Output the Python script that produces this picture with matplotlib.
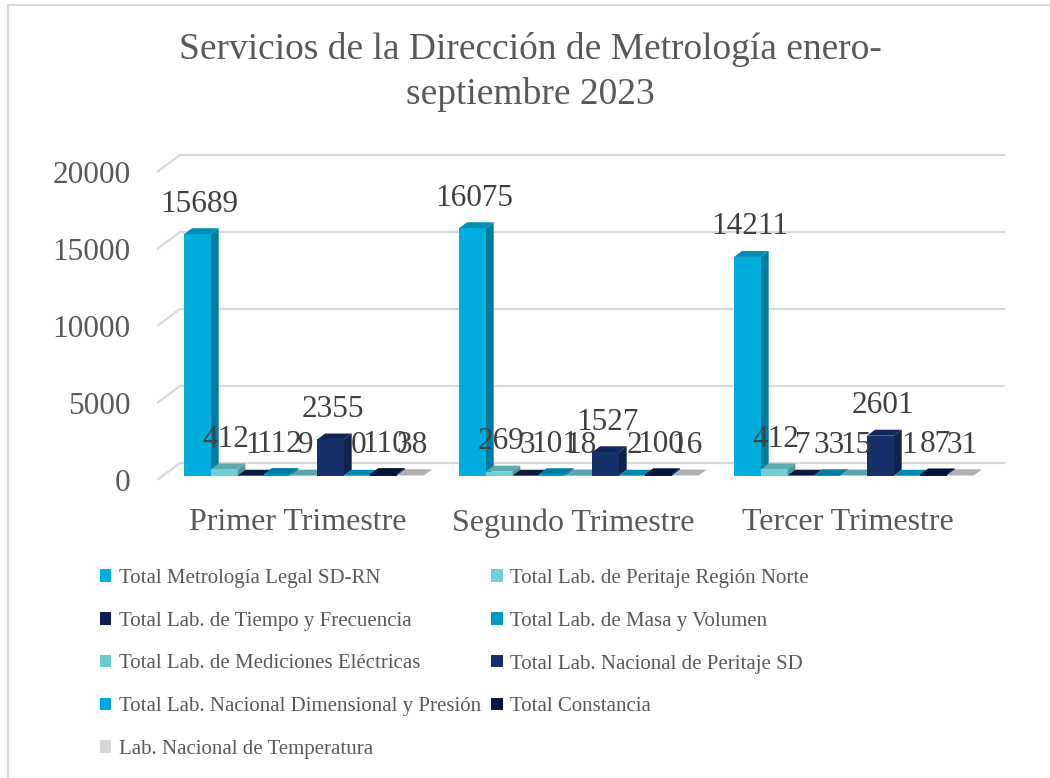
import numpy as np
import matplotlib
matplotlib.use('Agg')
import matplotlib.pyplot as plt
from matplotlib.patches import Polygon, Patch
from matplotlib.colors import to_rgb

plt.rcParams['font.family'] = ['Liberation Serif', 'DejaVu Serif']

# data
categories = ['Primer Trimestre', 'Segundo Trimestre', 'Tercer Trimestre']
series = ['Total Metrología Legal SD-RN',
          'Total Lab. de Peritaje Región Norte',
          'Total Lab. de Tiempo y Frecuencia',
          'Total Lab. de Masa y Volumen',
          'Total Lab. de Mediciones Eléctricas',
          'Total Lab. Nacional de Peritaje SD',
          'Total Lab. Nacional Dimensional y Presión',
          'Total Constancia',
          'Lab. Nacional de Temperatura']
legal = [15689, 16075, 14211]
peritaje_norte = [412, 269, 412]
tiempo = [1, 3, 7]
masa = [112, 101, 33]
electricas = [9, 18, 15]
peritaje_sd = [2355, 1527, 2601]
dimensional = [0, 2, 1]
constancia = [110, 100, 87]
temperatura = [38, 16, 31]
values = [legal, peritaje_norte, tiempo, masa, electricas,
          peritaje_sd, dimensional, constancia, temperatura]
colors = ['#00ADDC', '#70D0D8', '#0B1E4E', '#0096C6', '#6CCBD2',
          '#16306A', '#00A6DA', '#001845', '#D6D6D6']
yticks = [0, 5000, 10000, 15000, 20000]

# fake 3D: pixel scale of the plot and depth offset of the back wall
PX = 275.0            # px per category
PY = 77.0 / 5000      # px per value unit
DX = 23 / PX          # back wall shift (data units)
DY = 17 / PY
F, B = 0.25, 0.6      # front/back depth of the bars
bw = 26.6 / PX

fig = plt.figure(figsize=(10.5, 7.78), dpi=100)
ax = fig.add_axes([157 / 1050, (778 - 490) / 778, (1010 - 157) / 1050, 350 / 778])
xl, xr = (157 - 298) / PX, (1010 - 298) / PX
ax.set_xlim(xl, xr)
ax.set_ylim(-10 / PY, 340 / PY)
for s in ax.spines.values():
    s.set_visible(False)

grid = '#D9D9D9'
for t in yticks:
    ax.plot([xl, xl + DX, (1005 - 298) / PX], [t, t + DY, t + DY],
            color=grid, lw=1.6, zorder=1, solid_capstyle='butt')

def shade(c, k):
    r, g, b = to_rgb(c)
    return (r * k, g * k, b * k)

for i in range(len(categories)):
    for j, vals in enumerate(values):
        v = vals[i]
        x0 = i + (j - 4.5) * bw
        c = colors[j]
        side = Polygon([(x0 + bw + F * DX, F * DY), (x0 + bw + B * DX, B * DY),
                        (x0 + bw + B * DX, v + B * DY), (x0 + bw + F * DX, v + F * DY)],
                       closed=True, fc=shade(c, 0.72), ec='none', zorder=3)
        top = Polygon([(x0 + F * DX, v + F * DY), (x0 + bw + F * DX, v + F * DY),
                       (x0 + bw + B * DX, v + B * DY), (x0 + B * DX, v + B * DY)],
                      closed=True, fc=shade(c, 0.82), ec='none', zorder=3)
        ax.add_patch(side)
        ax.add_patch(top)
        ax.bar(x0 + F * DX, v, width=bw, bottom=F * DY, align='edge',
               color=c, zorder=3)
        ax.annotate(str(v), (x0 + bw / 2 + B * DX, v + B * DY),
                    xytext=(-6, 24), textcoords='offset pixels',
                    ha='center', va='center', fontsize=22.5, color='#404040', zorder=5)

ax.set_yticks(yticks)
ax.set_yticklabels([str(t) for t in yticks])
ax.set_xticks(range(len(categories)))
ax.set_xticklabels(categories)
ax.tick_params(axis='y', length=0, pad=19, labelsize=22.5, labelcolor='#595959')
ax.tick_params(axis='x', length=0, pad=13, labelsize=23, labelcolor='#595959')

fig.text(530 / 1050, 1 - 72 / 778,
         'Servicios de la Dirección de Metrología enero-\nseptiembre 2023',
         ha='center', va='center', fontsize=27, color='#595959', linespacing=1.4)

# legend, Excel fills it row by row
handles = [Patch(facecolor=c, edgecolor='none') for c in colors]
order = [0, 2, 4, 6, 8, 1, 3, 5, 7]
fig.legend([handles[k] for k in order], [series[k] for k in order],
           ncol=2, loc='upper left', bbox_to_anchor=(100 / 1050, 1 - 569 / 778),
           frameon=False, fontsize=15, labelcolor='#595959',
           handlelength=0.55, handleheight=0.55, handletextpad=0.35,
           labelspacing=1.14, columnspacing=0.5, borderpad=0, borderaxespad=0)

# chart area border (only top and left visible in the crop)
fig.add_artist(plt.Line2D([8 / 1050, 1.0], [1 - 5 / 778, 1 - 5 / 778],
                          transform=fig.transFigure, color='#D9D9D9', lw=1.5))
fig.add_artist(plt.Line2D([8 / 1050, 8 / 1050], [0, 1 - 5 / 778],
                          transform=fig.transFigure, color='#D9D9D9', lw=1.5))

fig.savefig('out.png', dpi=100)
